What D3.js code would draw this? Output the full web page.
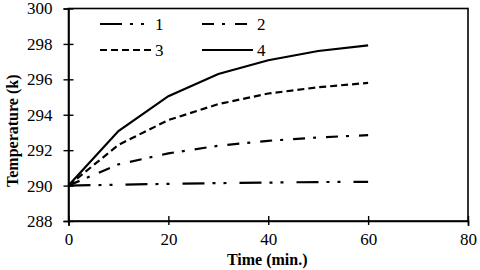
<!DOCTYPE html>
<html><head><meta charset="utf-8">
<script src="https://cdn.jsdelivr.net/npm/d3@7"></script>
<style>body{margin:0;background:#fff}svg{display:block}</style>
</head><body>
<svg id="c" width="480" height="270"></svg>
<script>
const times = [0, 10, 20, 30, 40, 50, 60];
const series1 = [290.0, 290.05, 290.1, 290.14, 290.17, 290.2, 290.21];
const series2 = [290.0, 291.2, 291.82, 292.25, 292.53, 292.72, 292.85];
const series3 = [290.0, 292.3, 293.7, 294.6, 295.2, 295.55, 295.8];
const series4 = [290.0, 293.08, 295.05, 296.3, 297.08, 297.6, 297.92];
const seriesNames = ["1", "2", "3", "4"];
const xTicks = [0, 20, 40, 60, 80];
const yTicks = [288, 290, 292, 294, 296, 298, 300];
const dashes = ["22,8,3,8,3,13", "12,8,3,10", "7,4", null];
const FONT = "'Liberation Serif', 'Times New Roman', Times, serif";

const svg = d3.select("#c");
const x = d3.scaleLinear().domain([0, 80]).range([68.5, 468]);
const y = d3.scaleLinear().domain([288, 300]).range([221, 8.5]);

svg.append("rect").attr("x", x(0)).attr("y", y(300)).attr("width", x(80) - x(0)).attr("height", y(288) - y(300))
  .attr("fill", "none").attr("stroke", "#000").attr("stroke-width", 1.6);

const fs = 17;
const xAxis = svg.append("g").attr("transform", `translate(0,${y(288)})`)
  .call(d3.axisBottom(x).tickValues(xTicks).tickSize(5).tickPadding(7).tickFormat(d3.format("d")));
xAxis.selectAll(".tick line").attr("y1", -5).attr("y2", 4);
const yAxis = svg.append("g").attr("transform", `translate(${x(0)},0)`)
  .call(d3.axisLeft(y).tickValues(yTicks).tickSize(5).tickPadding(11).tickFormat(d3.format("d")));
yAxis.selectAll(".tick line").attr("x1", -5).attr("x2", 5);
[xAxis, yAxis].forEach(a => {
  a.attr("font-family", null);
  a.select(".domain").attr("stroke-width", 1.6);
  a.selectAll(".tick line").attr("stroke-width", 1.4);
  a.selectAll(".tick text").style("font-size", fs + "px").style("font-family", FONT).attr("fill", "#000");
});

svg.append("text").attr("x", (x(0) + x(80)) / 2 - 1).attr("y", 265).attr("text-anchor", "middle")
  .style("font-size", "16px").style("font-weight", "bold").style("font-family", FONT).text("Time (min.)");
svg.append("text").attr("transform", `translate(18,${(y(288) + y(300)) / 2 + 16}) rotate(-90)`).attr("text-anchor", "middle")
  .style("font-size", "16px").style("font-weight", "bold").style("font-family", FONT).text("Temperature (k)");

const allSeries = [series1, series2, series3, series4];
const line = d3.line().x((d, i) => x(times[i])).y(d => y(d));
allSeries.forEach((s, k) => {
  svg.append("path").datum(s).attr("d", line).attr("fill", "none").attr("stroke", "#000")
    .attr("stroke-width", 2.2).attr("stroke-dasharray", dashes[k]);
});

const legPos = [[100, 24], [202, 24], [100, 50], [202, 50]];
seriesNames.forEach((n, k) => {
  const [lx, ly] = legPos[k];
  svg.append("line").attr("x1", lx).attr("x2", lx + 51).attr("y1", ly).attr("y2", ly)
    .attr("stroke", "#000").attr("stroke-width", 2.2).attr("stroke-dasharray", dashes[k]);
  svg.append("text").attr("x", lx + 55).attr("y", ly + 6).style("font-size", fs + "px").style("font-family", FONT).text(n);
});
</script>
</body></html>
